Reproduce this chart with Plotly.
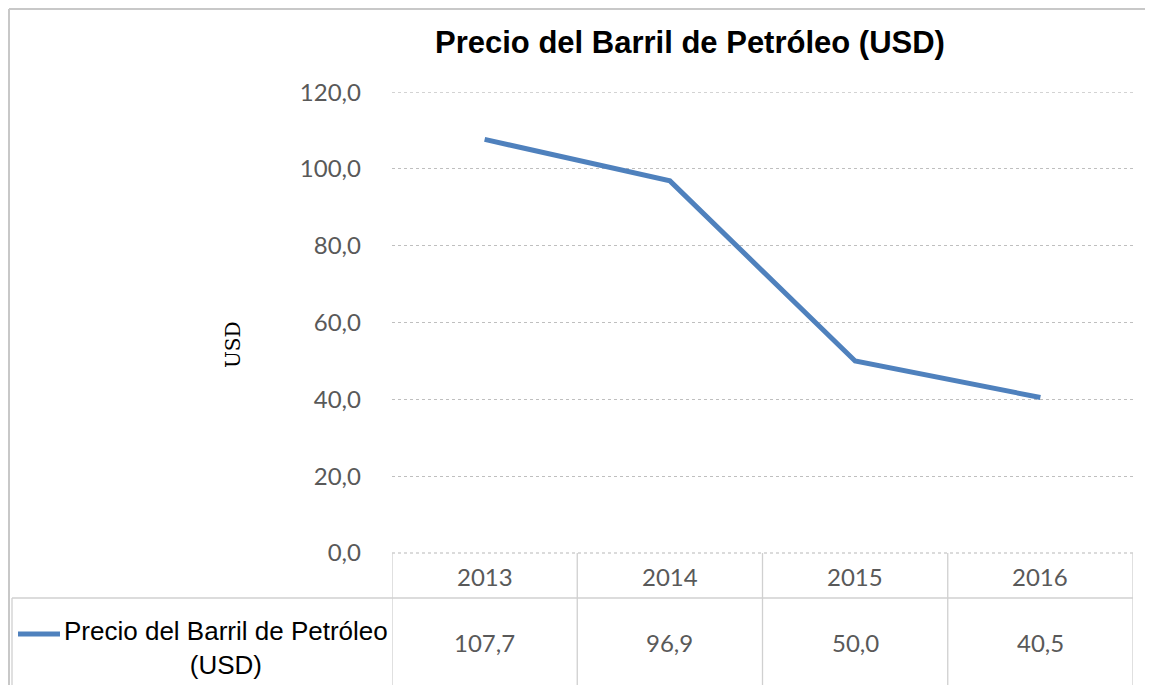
import plotly.graph_objects as go

years = ["2013", "2014", "2015", "2016"]
prices = [107.7, 96.9, 50.0, 40.5]
value_labels = ["107,7", "96,9", "50,0", "40,5"]
y_ticks = [0, 20, 40, 60, 80, 100, 120]
series_name = "Precio del Barril de Petróleo (USD)"
legend_label = "Precio del Barril de Petróleo<br>(USD)"

blue = "#4F81BD"
grid = "#BFBFBF"
tick_gray = "#595959"

fig = go.Figure()
fig.add_trace(go.Scatter(
    x=years, y=prices, mode="lines", name=series_name,
    line=dict(color=blue, width=5), showlegend=False))

# plot area in page pixels: left 392, right 1133, top 92, bottom 553
# the page body adds an 8px offset, so the figure itself is 8px smaller
H = 461.0
W = 741.0
FIG_W, FIG_H = 1145, 677


def py(p):
    return (553 - p) / H


def px(p):
    return (p - 392) / W


shapes = []
line_style = dict(color="#D0D0D0", width=1.3)
# top gridline (plotly drops the one sitting on the plot edge)
shapes.append(dict(type="line", xref="paper", yref="y", x0=0, x1=1,
                   y0=y_ticks[-1], y1=y_ticks[-1],
                   line=dict(color=grid, width=1, dash="dot")))
for i in range(len(years) + 1):
    shapes.append(dict(type="line", xref="x", yref="paper",
                       x0=i - 0.5, x1=i - 0.5, y0=py(553), y1=py(690),
                       line=line_style))
shapes.append(dict(type="line", xref="x", yref="paper", x0=-0.5, x1=3.5,
                   y0=py(553), y1=py(553),
                   line=dict(color="#D0D0D0", width=1.3, dash="dot")))
shapes.append(dict(type="line", xref="paper", yref="paper", x0=px(12), x1=1,
                   y0=py(598), y1=py(598), line=line_style))
shapes.append(dict(type="line", xref="paper", yref="paper", x0=px(12), x1=px(12),
                   y0=py(598), y1=py(690), line=line_style))
# legend key line
shapes.append(dict(type="line", xref="paper", yref="paper", x0=px(18), x1=px(60),
                   y0=py(634), y1=py(634), line=dict(color=blue, width=5)))
# outer frame
shapes.append(dict(type="line", xref="paper", yref="paper", x0=px(9), x1=px(1150),
                   y0=py(9), y1=py(9), line=dict(color="#C8C8C8", width=2)))
shapes.append(dict(type="line", xref="paper", yref="paper", x0=px(9), x1=px(9),
                   y0=py(9), y1=py(690), line=dict(color="#C8C8C8", width=2)))

annotations = []
for i, (yr, v) in enumerate(zip(years, value_labels)):
    annotations.append(dict(x=i, xref="x", y=py(576), yref="paper", text=yr,
                            xanchor="center", yanchor="middle", showarrow=False,
                            font=dict(family="Lato", size=24, color=tick_gray)))
    annotations.append(dict(x=i, xref="x", y=py(642), yref="paper", text=v,
                            xanchor="center", yanchor="middle", showarrow=False,
                            font=dict(family="Lato", size=24, color=tick_gray)))
annotations.append(dict(x=px(226), xref="paper", y=py(648), yref="paper",
                        text=legend_label, showarrow=False, align="center",
                        xanchor="center", yanchor="middle",
                        font=dict(family="Liberation Sans", size=26, color="black")))
annotations.append(dict(x=px(233), xref="paper", y=py(345), yref="paper",
                        text="USD", textangle=-90, showarrow=False,
                        xanchor="center", yanchor="middle",
                        font=dict(family="DejaVu Serif", size=20, color="black")))

fig.update_layout(
    width=FIG_W, height=FIG_H,
    margin=dict(l=384, r=20, t=84, b=132, pad=0),
    paper_bgcolor="white", plot_bgcolor="white",
    separators=",.",
    title=dict(text="<b>" + series_name + "</b>", xref="container", yref="container",
               x=(690 - 8) / FIG_W, xanchor="center",
               y=1 - (42 - 8) / FIG_H, yanchor="middle",
               font=dict(family="Liberation Sans", size=31, color="black")),
    xaxis=dict(type="category", range=[-0.5, 3.5], showticklabels=False,
               showgrid=False, zeroline=False, showline=False),
    yaxis=dict(range=[0, 120.05], tickvals=y_ticks,
               tickformat=".1f",
               showgrid=True, gridcolor=grid, griddash="dot", gridwidth=1,
               zeroline=False, showline=False, ticks="",
               ticklabelstandoff=30,
               tickfont=dict(family="Lato", size=24, color=tick_gray)),
    shapes=shapes, annotations=annotations,
)

fig.write_html("out.html")
